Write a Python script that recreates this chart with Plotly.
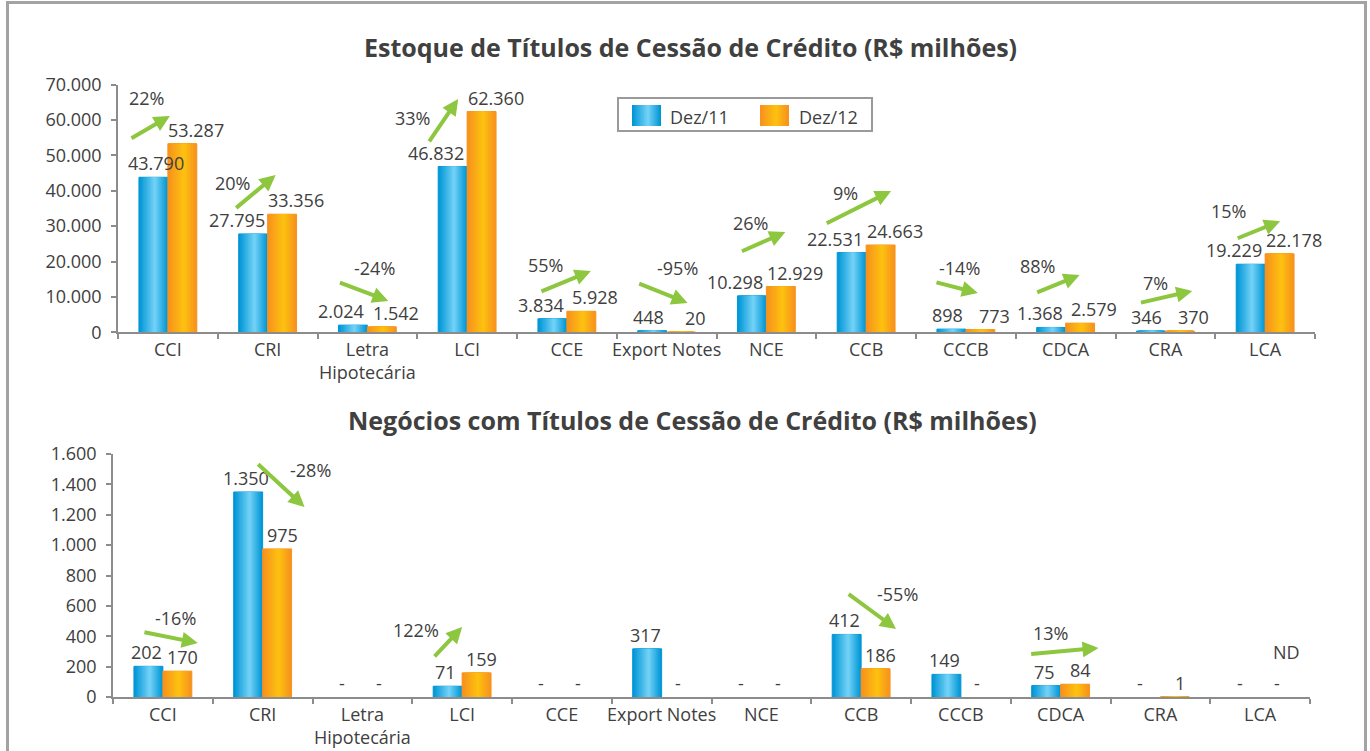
import plotly.graph_objects as go

# ---------------------------------------------------------------- data
categories = ["CCI", "CRI", "Letra<br>Hipotecária", "LCI", "CCE", "Export Notes",
              "NCE", "CCB", "CCCB", "CDCA", "CRA", "LCA"]
series_names = ["Dez/11", "Dez/12"]

# Estoque (R$ milhões)
stock_dez11 = [43790, 27795, 2024, 46832, 3834, 448, 10298, 22531, 898, 1368, 346, 19229]
stock_dez12 = [53287, 33356, 1542, 62360, 5928, 20, 12929, 24663, 773, 2579, 370, 22178]
stock_change = ["22%", "20%", "-24%", "33%", "55%", "-95%", "26%", "9%", "-14%", "88%", "7%", "15%"]

# Negócios (R$ milhões); None = sem negócios ("-")
deals_dez11 = [202, 1350, None, 71, None, 317, None, 412, 149, 75, None, None]
deals_dez12 = [170, 975, None, 159, None, None, None, 186, None, 84, 1, None]
deals_change = ["-16%", "-28%", None, "122%", None, None, None, "-55%", None, "13%", None, None]
deals_note = {"LCA": "ND"}

stock_title = "Estoque de Títulos de Cessão de Crédito (R$ milhões)"
deals_title = "Negócios com Títulos de Cessão de Crédito (R$ milhões)"

# ---------------------------------------------------------------- styling
W, H = 1370, 751
TEXT = "#404040"
AXIS = "#8c8c8c"
GREEN = "#8dc63f"
FONT = "Open Sans"
BLUE_EDGE, BLUE_MID = (0, 150, 214), (112, 208, 246)
ORANGE_EDGE, ORANGE_MID = (247, 146, 30), (253, 192, 16)
BAR_W = 0.29          # width of one bar, in category units
PEAK = 0.55           # position of the light band across a bar
LAYERS = 12
STOCK_LABEL_NUDGE = {0: 19}   # extra pixel shift for individual Dez/11 labels

# arrow layout per category: (tail dx, tail y, head dx, head y, label dx, label y)
stock_arrows = [
    (-0.38, 54600, 0.02, 61100, -0.21, 66200),
    (-0.33, 34800, 0.08, 44400, -0.35, 42200),
    (-0.29, 14200, 0.21, 8850, 0.07, 18200),
    (-0.39, 53500, -0.09, 65900, -0.55, 60500),
    (-0.27, 11400, 0.24, 17300, -0.21, 19000),
    (-0.29, 13900, 0.21, 8300, 0.11, 18200),
    (-0.26, 22700, 0.19, 28300, -0.16, 30900),
    (-0.41, 30600, 0.25, 39900, -0.21, 39400),
    (-0.31, 14200, 0.12, 11100, -0.06, 18200),
    (-0.30, 11100, 0.14, 16200, -0.28, 18700),
    (-0.26, 8300, 0.27, 11700, -0.10, 13900),
    (-0.29, 26400, 0.15, 31400, -0.37, 34300),
]
deals_arrows = {
    0: (-0.20, 428, 0.35, 356, 0.13, 520),
    1: (-0.06, 1541, 0.42, 1251, 0.48, 1495),
    3: (-0.29, 257, 0.00, 461, -0.46, 441),
    7: (-0.14, 685, 0.35, 448, 0.36, 678),
    9: (-0.31, 283, 0.38, 323, -0.10, 421),
}


def px_x(p):
    return p / W


def px_y(p):
    return 1 - p / H


def mix(a, b, t):
    return "rgb({},{},{})".format(*[round(a[k] + (b[k] - a[k]) * t) for k in range(3)])


def fmt(v):
    return f"{v:,}".replace(",", ".")


fig = go.Figure()


def add_gradient_bars(values, side, edge, mid, xa, ya):
    """Bar series drawn as nested strips to give a horizontal light band."""
    left = -BAR_W if side == 0 else 0.0
    centre = left + BAR_W * PEAK
    for i in range(LAYERS):
        w = BAR_W * (1 - i / LAYERS)
        col = mix(edge, mid, i / (LAYERS - 1))
        fig.add_trace(go.Bar(
            x=categories, y=values, width=w, offset=centre - w * PEAK,
            marker=dict(color=col,
                        line=dict(width=1 if i == 0 else 0, color=col)),
            showlegend=False, hoverinfo="skip", xaxis=xa, yaxis=ya,
        ))


add_gradient_bars(stock_dez11, 0, BLUE_EDGE, BLUE_MID, "x", "y")
add_gradient_bars(stock_dez12, 1, ORANGE_EDGE, ORANGE_MID, "x", "y")
add_gradient_bars(deals_dez11, 0, BLUE_EDGE, BLUE_MID, "x2", "y2")
add_gradient_bars(deals_dez12, 1, ORANGE_EDGE, ORANGE_MID, "x2", "y2")

annotations = []
label_font = dict(family=FONT, size=18, color=TEXT)

# value labels, estoque
for i, (a, b) in enumerate(zip(stock_dez11, stock_dez12)):
    annotations.append(dict(x=i, y=a, xref="x", yref="y", text=fmt(a), showarrow=False,
                            xanchor="right", yanchor="bottom",
                            xshift=-1 + STOCK_LABEL_NUDGE.get(i, 0), yshift=0,
                            font=label_font))
    annotations.append(dict(x=i + BAR_W / 2, y=b, xref="x", yref="y", text=fmt(b),
                            showarrow=False, xanchor="center", yanchor="bottom",
                            xshift=14, yshift=0, font=label_font))

# value labels, negócios
for i, (a, b) in enumerate(zip(deals_dez11, deals_dez12)):
    for v, dx, sh in ((a, -BAR_W / 2, -2), (b, BAR_W / 2, 5)):
        if v is None:
            annotations.append(dict(x=i + dx, y=0, xref="x2", yref="y2", text="-",
                                    showarrow=False, xanchor="center", yanchor="bottom",
                                    xshift=sh - 4 if dx < 0 else sh - 3, yshift=0,
                                    font=label_font))
        else:
            annotations.append(dict(x=i + dx, y=v, xref="x2", yref="y2", text=fmt(v),
                                    showarrow=False, xanchor="center", yanchor="bottom",
                                    xshift=sh, yshift=0, font=label_font))
for cat, note in deals_note.items():
    annotations.append(dict(x=categories.index(cat) + BAR_W / 2, y=0, xref="x2", yref="y2",
                            text=note, showarrow=False, xanchor="center", yanchor="bottom",
                            xshift=12, yshift=31, font=label_font))


def add_arrow(i, geo, label, xr, yr):
    tdx, ty, hdx, hy, ldx, ly = geo
    annotations.append(dict(x=i + hdx, y=hy, ax=i + tdx, ay=ty, xref=xr, yref=yr,
                            axref=xr, ayref=yr, text="", showarrow=True, arrowhead=2,
                            arrowsize=0.8, arrowwidth=4, arrowcolor=GREEN, standoff=0))
    annotations.append(dict(x=i + ldx, y=ly, xref=xr, yref=yr, text=label, showarrow=False,
                            xanchor="center", yanchor="middle", font=label_font))


for i, lab in enumerate(stock_change):
    add_arrow(i, stock_arrows[i], lab, "x", "y")
for i, lab in enumerate(deals_change):
    if lab is not None:
        add_arrow(i, deals_arrows[i], lab, "x2", "y2")

# titles
title_font = dict(family=FONT, size=25, color=TEXT)
annotations.append(dict(x=px_x(690), y=px_y(47), xref="paper", yref="paper",
                        text="<b>" + stock_title + "</b>", showarrow=False,
                        xanchor="center", yanchor="middle", font=title_font))
annotations.append(dict(x=px_x(692), y=px_y(420), xref="paper", yref="paper",
                        text="<b>" + deals_title + "</b>", showarrow=False,
                        xanchor="center", yanchor="middle", font=title_font))

# legend box with gradient swatches
shapes = []
shapes.append(dict(type="rect", xref="paper", yref="paper",
                   x0=px_x(618), x1=px_x(872), y0=px_y(131), y1=px_y(98),
                   line=dict(color="#9a9a9a", width=2), fillcolor="white"))
for (sx, edge, mid), name, tx in zip(
        [(632, BLUE_EDGE, BLUE_MID), (760, ORANGE_EDGE, ORANGE_MID)], series_names, [668, 797]):
    sw = 29
    c = sx + sw * PEAK
    for i in range(LAYERS):
        w = sw * (1 - i / LAYERS)
        shapes.append(dict(type="rect", xref="paper", yref="paper",
                           x0=px_x(c - w * PEAK), x1=px_x(c + w * (1 - PEAK)),
                           y0=px_y(126), y1=px_y(105), line=dict(width=0),
                           fillcolor=mix(edge, mid, i / (LAYERS - 1))))
    annotations.append(dict(x=px_x(tx), y=px_y(117), xref="paper", yref="paper", text=name,
                            showarrow=False, xanchor="left", yanchor="middle",
                            font=label_font))

# outer frame
shapes.append(dict(type="rect", xref="paper", yref="paper",
                   x0=px_x(7.5), x1=px_x(1365.5), y0=-0.2, y1=px_y(2.5),
                   line=dict(color="#a3a3a3", width=3)))

axis_common = dict(showgrid=False, zeroline=False, showline=True, linecolor=AXIS,
                   ticks="outside", tickcolor=AXIS, ticklen=5, automargin=False,
                   tickfont=dict(family=FONT, size=18, color=TEXT))

fig.update_layout(
    width=W, height=H, margin=dict(l=0, r=0, t=0, b=0),
    paper_bgcolor="white", plot_bgcolor="white",
    barmode="overlay", separators=",.",
    showlegend=False,
    xaxis=dict(axis_common, domain=[px_x(118), px_x(1315)], range=[-0.5, 11.5],
               type="category", tickson="boundaries", linewidth=2, tickwidth=1.5,
               tickangle=0, anchor="y"),
    yaxis=dict(axis_common, domain=[px_y(332.3), px_y(84.5)], range=[0, 70000],
               dtick=10000, tickformat=",d", linewidth=1.5, tickwidth=1.5,
               ticklabelstandoff=6, anchor="x"),
    xaxis2=dict(axis_common, domain=[px_x(113), px_x(1310)], range=[-0.5, 11.5],
                type="category", tickson="boundaries", linewidth=2, tickwidth=1.5,
                tickangle=0, anchor="y2"),
    yaxis2=dict(axis_common, domain=[px_y(697), px_y(454)], range=[0, 1600],
                dtick=200, tickformat=",d", linewidth=1.5, tickwidth=1.5,
                ticklabelstandoff=6, anchor="x2"),
    annotations=annotations,
    shapes=shapes,
)

fig.write_html("out.html")
